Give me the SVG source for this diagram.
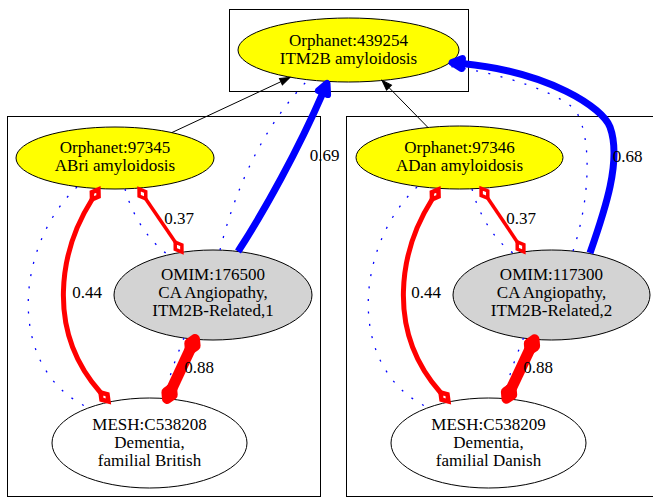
<svg xmlns="http://www.w3.org/2000/svg" width="653" height="498" viewBox="0 0 653 498" font-family="'Liberation Serif', 'DejaVu Serif', serif">
  <style>
    .cluster { fill: none; stroke: #000; stroke-width: 1; }
    .node ellipse { stroke: #000; stroke-width: 1; }
    .disease ellipse { fill: #ffff00; }
    .omim ellipse { fill: #d3d3d3; }
    .mesh ellipse { fill: #ffffff; }
    text { font-size: 17px; text-anchor: middle; fill: #000; }
    .xref { fill: none; stroke: #0000ff; stroke-width: 1.3; stroke-dasharray: 2 10.5; }
    .isa { fill: none; stroke: #000; stroke-width: 1; marker-end: url(#arrBlack); }
    .match { fill: none; stroke: #0000ff; stroke-width: 7; marker-end: url(#arrBlue); }
    .sim { fill: none; stroke: #ff0000; }
    .s37 { stroke-width: 3.5; marker-start: url(#diaS37); marker-end: url(#diaE37); }
    .s44 { stroke-width: 5; marker-start: url(#diaS44); marker-end: url(#diaE44); }
    .s88 { stroke-width: 11; marker-start: url(#diaS88); marker-end: url(#diaE88); }
  </style>
  <defs>
    <marker id="arrBlack" markerUnits="userSpaceOnUse" orient="auto" refX="0" refY="0" markerWidth="12" markerHeight="12" overflow="visible">
      <path d="M0,-3.5 L10,0 L0,3.5 Z" fill="#000" stroke="#000" stroke-width="1"/>
    </marker>
    <marker id="arrBlue" markerUnits="userSpaceOnUse" orient="auto" refX="0" refY="0" markerWidth="20" markerHeight="20" overflow="visible">
      <path d="M0,-5 L10,0 L0,5 Z" fill="#0000ff" stroke="#0000ff" stroke-width="7" stroke-linejoin="round"/>
    </marker>
    <!-- open diamonds at both ends of the red similarity edges -->
    <marker id="diaS37" markerUnits="userSpaceOnUse" orient="auto" refX="0" refY="0" markerWidth="16" markerHeight="16" overflow="visible">
      <path d="M0,0 L-6,-4 L-12,0 L-6,4 Z" fill="#fff" stroke="#ff0000" stroke-width="3.5"/>
    </marker>
    <marker id="diaE37" markerUnits="userSpaceOnUse" orient="auto" refX="0" refY="0" markerWidth="16" markerHeight="16" overflow="visible">
      <path d="M0,0 L6,-4 L12,0 L6,4 Z" fill="#fff" stroke="#ff0000" stroke-width="3.5"/>
    </marker>
    <marker id="diaS44" markerUnits="userSpaceOnUse" orient="auto" refX="0" refY="0" markerWidth="16" markerHeight="16" overflow="visible">
      <path d="M0,0 L-6,-4 L-12,0 L-6,4 Z" fill="#fff" stroke="#ff0000" stroke-width="4.5"/>
    </marker>
    <marker id="diaE44" markerUnits="userSpaceOnUse" orient="auto" refX="0" refY="0" markerWidth="16" markerHeight="16" overflow="visible">
      <path d="M0,0 L6,-4 L12,0 L6,4 Z" fill="#fff" stroke="#ff0000" stroke-width="4.5"/>
    </marker>
    <marker id="diaS88" markerUnits="userSpaceOnUse" orient="auto" refX="0" refY="0" markerWidth="24" markerHeight="24" overflow="visible">
      <path d="M0,0 L-6,-3.5 L-12,0 L-6,3.5 Z" fill="#ff0000" stroke="#ff0000" stroke-width="10" stroke-linejoin="round"/>
    </marker>
    <marker id="diaE88" markerUnits="userSpaceOnUse" orient="auto" refX="0" refY="0" markerWidth="24" markerHeight="24" overflow="visible">
      <path d="M0,0 L6,-3.5 L12,0 L6,3.5 Z" fill="#ff0000" stroke="#ff0000" stroke-width="10" stroke-linejoin="round"/>
    </marker>
  </defs>

  <rect x="0" y="0" width="653" height="498" fill="#fff"/>

  <!-- clusters -->
  <g id="clusters">
    <rect class="cluster" x="229.5" y="9.5" width="239" height="82"/>
    <rect class="cluster" x="7.5" y="116.5" width="313" height="380"/>
    <rect class="cluster" x="346.5" y="116.5" width="320" height="380"/>
  </g>

  <!-- nodes -->
  <g id="orphanet439254" class="node disease">
    <ellipse cx="348.5" cy="50" rx="110.5" ry="32"/>
    <text x="348.5" y="46">Orphanet:439254</text>
    <text x="348.5" y="64">ITM2B amyloidosis</text>
  </g>
  <g id="orphanet97345" class="node disease">
    <ellipse cx="115" cy="158" rx="99" ry="31"/>
    <text x="115" y="153">Orphanet:97345</text>
    <text x="115" y="171">ABri amyloidosis</text>
  </g>
  <g id="orphanet97346" class="node disease">
    <ellipse cx="459.5" cy="157.5" rx="103.5" ry="31.5"/>
    <text x="459.5" y="153">Orphanet:97346</text>
    <text x="459.5" y="171">ADan amyloidosis</text>
  </g>
  <g id="omim176500" class="node omim">
    <ellipse cx="213" cy="295" rx="99" ry="45"/>
    <text x="213" y="280">OMIM:176500</text>
    <text x="213" y="298">CA Angiopathy,</text>
    <text x="213" y="316">ITM2B-Related,1</text>
  </g>
  <g id="omim117300" class="node omim">
    <ellipse cx="551.5" cy="295" rx="98.5" ry="45"/>
    <text x="551.5" y="280">OMIM:117300</text>
    <text x="551.5" y="298">CA Angiopathy,</text>
    <text x="551.5" y="316">ITM2B-Related,2</text>
  </g>
  <g id="meshC538208" class="node mesh">
    <ellipse cx="149.5" cy="443" rx="97.5" ry="45"/>
    <text x="149.5" y="429.5">MESH:C538208</text>
    <text x="149.5" y="447.5">Dementia,</text>
    <text x="149.5" y="465.5">familial British</text>
  </g>
  <g id="meshC538209" class="node mesh">
    <ellipse cx="488.5" cy="443" rx="97.5" ry="45"/>
    <text x="488.5" y="429.5">MESH:C538209</text>
    <text x="488.5" y="447.5">Dementia,</text>
    <text x="488.5" y="465.5">familial Danish</text>
  </g>

  <!-- connectors -->
  <g id="edges">
    <!-- cross-references (dotted) -->
    <path class="xref" d="M77,187 C15,245 5,370 89,408"/>
    <path class="xref" d="M125,189 C132,215 148,240 167,254"/>
    <path class="xref" d="M220,250 C235,190 262,128 307,81"/>
    <path class="xref" d="M184,338 C176,358 168,378 165,399"/>
    <path class="xref" d="M417,187 C355,245 345,370 429,408"/>
    <path class="xref" d="M472,189 C479,215 494,240 513,253"/>
    <path class="xref" d="M573,251 C590,200 592,140 577,113 C567,95 500,72 446,66"/>
    <path class="xref" d="M523.5,338 C515.5,358 507.5,378 504.5,399"/>

    <!-- similarity edges -->
    <path class="sim s37" d="M145.8,198.9 L175.2,242.1"/>
    <path class="sim s37" d="M487.8,198.2 L517.2,241.9"/>
    <path class="sim s44" d="M92,199.5 C60,250 45,330 100.5,392.5"/>
    <path class="sim s44" d="M432,199.5 C400,250 385,330 440.5,392.5"/>
    <path class="sim s88" d="M189.9,349.9 L172.1,388.1"/>
    <path class="sim s88" d="M529.4,350.2 L511.6,387.9"/>

    <!-- equivalence matches -->
    <path class="match" d="M238,251.5 C265,210 298,150 323,92.6"/>
    <path class="match" d="M590,253 C605,210 622,160 610,127 C603,108 550,72 462,63.5"/>

    <!-- subclass links -->
    <path class="isa" d="M172,132.5 L280.9,81.7"/>
    <path class="isa" d="M428,127.5 L389,87.6"/>

    <!-- edge labels -->
    <text x="324.5" y="161">0.69</text>
    <text x="627.5" y="162">0.68</text>
    <text x="179" y="223.5">0.37</text>
    <text x="521" y="224">0.37</text>
    <text x="87" y="298">0.44</text>
    <text x="426" y="298">0.44</text>
    <text x="199" y="373">0.88</text>
    <text x="538" y="373">0.88</text>
  </g>
</svg>
